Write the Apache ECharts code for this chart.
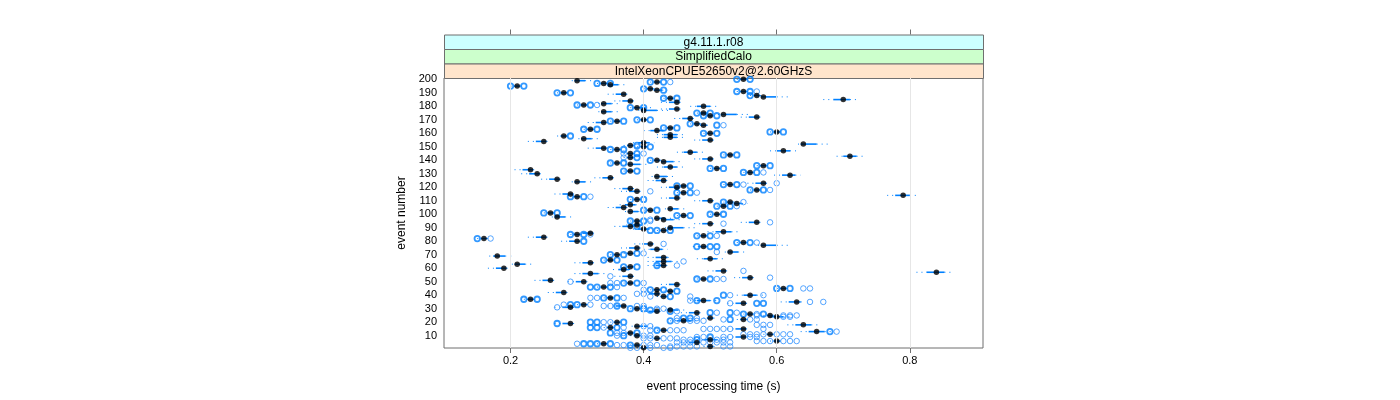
<!DOCTYPE html>
<html><head><meta charset="utf-8">
<script src="https://cdn.jsdelivr.net/npm/echarts@6/dist/echarts.min.js"></script>
<style>html,body{margin:0;padding:0;background:#fff}#c{width:1400px;height:400px}</style>
</head><body><div id="c"></div>
<script>
// ---- data ----
const events = [200,199,198,197,196,195,193,192,191,190,
 189,188,187,186,185,184,183,182,181,180,
 179,178,177,176,175,174,173,172,171,170,
 169,168,167,166,164,163,162,161,160,159,
 158,157,156,155,154,153,152,151,150,149,
 148,147,146,145,144,143,142,141,140,139,
 138,137,136,135,134,133,132,131,130,129,
 128,127,126,125,124,123,122,121,120,119,
 118,117,116,115,114,113,112,111,110,109,
 108,107,106,105,104,103,102,101,100,99,
 98,97,96,95,94,93,92,91,90,89,
 88,87,86,85,84,83,82,80,79,78,
 77,76,75,74,72,71,70,69,68,67,
 66,65,64,63,62,61,60,59,58,57,
 56,54,53,52,51,50,49,48,46,45,
 44,43,42,41,40,39,38,37,36,35,
 34,33,32,31,30,29,28,27,26,25,
 24,23,22,21,20,19,18,17,16,15,
 14,13,12,11,10,9,8,7,6,5,
 4,3,2,1];
const means = [0.55,0.30,0.42,0.34,0.35,0.21,0.41,0.42,0.55,0.28,
 0.37,0.57,0.58,0.44,0.70,0.38,0.45,0.34,0.31,0.49,
 0.39,0.45,0.40,0.34,0.49,0.52,0.50,0.57,0.47,0.40,
 0.36,0.34,0.48,0.49,0.44,0.32,0.42,0.60,0.50,0.44,
 0.28,0.44,0.31,0.50,0.25,0.40,0.64,0.38,0.40,0.34,
 0.36,0.61,0.47,0.38,0.53,0.71,0.38,0.50,0.42,0.43,
 0.36,0.38,0.58,0.44,0.51,0.23,0.38,0.56,0.24,0.62,
 0.42,0.35,0.27,0.43,0.30,0.58,0.53,0.46,0.45,0.38,
 0.57,0.39,0.46,0.29,0.79,0.30,0.45,0.39,0.50,0.53,
 0.54,0.38,0.52,0.37,0.44,0.41,0.38,0.26,0.51,0.46,
 0.27,0.42,0.43,0.39,0.57,0.50,0.39,0.38,0.44,0.40,
 0.43,0.52,0.32,0.30,0.49,0.25,0.16,0.30,0.55,0.41,
 0.58,0.49,0.39,0.42,0.53,0.38,0.36,0.18,0.43,0.50,
 0.35,0.43,0.32,0.21,0.43,0.38,0.19,0.37,0.52,0.84,
 0.32,0.38,0.56,0.49,0.26,0.31,0.38,0.45,0.34,0.61,
 0.42,0.44,0.28,0.42,0.56,0.43,0.35,0.23,0.49,0.63,
 0.55,0.31,0.37,0.29,0.39,0.44,0.42,0.48,0.56,0.59,
 0.60,0.50,0.55,0.46,0.36,0.29,0.64,0.39,0.35,0.55,
 0.43,0.66,0.38,0.59,0.39,0.55,0.42,0.50,0.60,0.48,
 0.34,0.39,0.50,0.40];
// spread of each event's bar to the left / right of its mean (s)
const barLeft = [.005,.004,.005,.005,.004,.005,.005,.005,.005,.005,
 .012,.005,.004,.005,.015,.012,.012,.004,.005,.01,
 .005,.012,.004,.004,.005,.004,.005,.012,.012,.005,
 .005,.012,.005,.005,.005,.005,.01,.005,.005,.01,
 .005,.01,.004,.012,.012,.008,.004,.005,.005,.012,
 .005,.01,.01,.005,.005,.01,.005,.012,.005,.004,
 .005,.004,.005,.01,.005,.012,.005,.005,.012,.012,
 .004,.012,.012,.012,.004,.012,.005,.005,.012,.012,
 .005,.012,.005,.012,.012,.005,.012,.005,.012,.005,
 .005,.008,.005,.012,.004,.005,.004,.005,.005,.005,
 .004,.004,.004,.005,.012,.012,.008,.012,.004,.008,
 .005,.012,.012,.005,.005,.012,.005,.012,.005,.012,
 .004,.008,.012,.01,.004,.005,.005,.006,.012,.01,
 .005,.012,.012,.004,.012,.005,.012,.008,.012,.015,
 .012,.012,.012,.005,.012,.012,.005,.012,.005,.005,
 .005,.005,.012,.012,.01,.005,.005,.005,.01,.012,
 .012,.005,.012,.012,.005,.004,.012,.012,.005,.005,
 .01,.005,.005,.01,.005,.012,.012,.004,.005,.012,
 .005,.012,.005,.005,.005,.012,.005,.01,.005,.012,
 .005,.005,.005,.005];
const barRight = [.005,.012,.005,.005,.012,.005,.005,.008,.005,.005,
 .004,.005,.02,.005,.01,.004,.004,.012,.005,.01,
 .012,.004,.02,.012,.005,.02,.005,.004,.004,.005,
 .005,.004,.005,.005,.005,.005,.01,.005,.005,.01,
 .005,.01,.012,.004,.004,.008,.02,.005,.005,.004,
 .005,.01,.01,.005,.005,.01,.005,.004,.005,.015,
 .005,.015,.005,.01,.005,.004,.005,.005,.004,.008,
 .015,.004,.004,.004,.012,.004,.005,.005,.004,.004,
 .005,.004,.005,.004,.01,.005,.004,.005,.004,.005,
 .008,.008,.005,.004,.012,.005,.012,.005,.005,.005,
 .012,.012,.015,.005,.004,.004,.008,.004,.02,.008,
 .005,.012,.004,.005,.005,.004,.005,.004,.005,.004,
 .02,.005,.004,.008,.012,.005,.005,.012,.006,.01,
 .005,.012,.004,.012,.004,.005,.004,.008,.004,.012,
 .012,.004,.004,.005,.004,.004,.005,.004,.005,.005,
 .005,.005,.004,.004,.01,.005,.005,.005,.01,.006,
 .004,.005,.004,.004,.005,.012,.004,.004,.005,.005,
 .01,.005,.005,.01,.005,.004,.012,.015,.005,.004,
 .005,.012,.005,.005,.005,.004,.005,.01,.005,.004,
 .005,.005,.005,.005];
// individual run times of each event (s)
const runs = [
 [0.54,0.54,0.56,0.56],[],[0.41,0.41,0.43,0.43,0.44],[0.33,0.33,0.35,0.35],[],[0.20,0.20,0.22,0.22],[0.40,0.40],[0.43,0.43],[0.54,0.54,0.56,0.56,0.57],[0.27,0.27,0.29,0.29],
 [],[0.56,0.56],[],[0.43,0.43,0.45,0.45],[],[],[],[],[0.30,0.30,0.32,0.32,0.33],[],
 [0.38,0.38,0.40,0.40],[],[],[],[0.48,0.48,0.50,0.50],[],[0.49,0.49,0.51,0.51],[],[],[0.39,0.39,0.41,0.41],
 [0.35,0.35,0.37,0.37],[],[0.47,0.47],[0.51,0.51,0.52],[0.43,0.43,0.45,0.45],[0.31,0.31,0.33,0.33],[],[0.59,0.59,0.61,0.61],[0.49,0.49,0.51,0.51],[],
 [0.29,0.29],[],[],[],[],[],[],[0.39,0.39],[0.39,0.41,0.41],[],
 [0.35,0.35,0.37,0.37],[],[],[0.37,0.39,0.39,0.40],[0.52,0.52,0.54,0.54],[],[0.37,0.39,0.39],[],[0.41,0.41],[],
 [0.35,0.35,0.37,0.37],[],[0.57,0.57,0.59,0.59],[],[0.50,0.50,0.52,0.52],[],[0.37,0.37,0.39,0.39],[0.55,0.55,0.57,0.57,0.58],[],[],
 [],[],[],[],[],[0.60],[0.52,0.52,0.54,0.54,0.55],[0.45,0.45,0.47,0.47],[],[],
 [0.56,0.56,0.58,0.58,0.59],[0.41],[0.45,0.45,0.47,0.47,0.48],[],[],[0.29,0.29,0.31,0.31,0.32],[],[0.38,0.38,0.40,0.40],[],[0.52,0.52,0.55],
 [],[],[0.51,0.51,0.53,0.53,0.54],[],[],[0.40,0.40,0.42,0.42],[],[0.25,0.25,0.27,0.27],[0.50,0.50,0.52,0.52],[0.45,0.45,0.47,0.47],
 [],[],[0.41],[0.38,0.38,0.40,0.40,0.41],[0.59],[0.52],[],[0.39,0.39],[],[],
 [0.41,0.41,0.42,0.42,0.44,0.44],[],[],[0.29,0.29,0.31,0.31,0.32],[0.48,0.48,0.50,0.50,0.51],[],[0.15,0.15,0.17],[0.31,0.31],[0.54,0.54,0.56,0.56,0.57],[0.43],
 [],[0.48,0.48,0.50,0.50,0.51,0.51],[],[],[0.51],[0.39,0.39,0.40],[0.35,0.35,0.37,0.37],[],[],[],
 [0.34,0.34,0.36,0.36],[0.46],[],[],[0.42,0.42,0.45],[0.37,0.37,0.39,0.39],[],[],[0.55],[],
 [],[0.35],[0.59],[0.48,0.48,0.50,0.50,0.51,0.52],[],[0.29],[0.35,0.36,0.37,0.37,0.39,0.39,0.40],[],[0.32,0.32,0.33,0.33,0.35,0.35,0.36],[0.60,0.60,0.62,0.62,0.64,0.65],
 [0.40,0.41,0.41,0.43,0.43],[0.45,0.45],[],[0.39,0.40],[0.52,0.52,0.53,0.58],[0.41,0.44,0.44,0.47],[0.32,0.33,0.34,0.34,0.36,0.36,0.37],[0.22,0.22,0.24,0.24],[0.47,0.48,0.48,0.51,0.51],[0.65,0.67],
 [0.53,0.57,0.57,0.58,0.58],[0.28,0.29,0.29,0.30,0.30,0.32],[0.34,0.35,0.36,0.36,0.39,0.40],[0.27],[0.38,0.38,0.40,0.40,0.42,0.43],[0.41,0.41,0.42],[0.44,0.44,0.45],[0.50,0.50,0.51,0.53,0.53,0.54],[0.55,0.55,0.57,0.58,0.58],[0.57,0.61,0.62,0.63],
 [0.61,0.62],[0.45,0.46,0.46,0.47,0.47,0.48],[0.52,0.53,0.53,0.56,0.57],[0.44,0.44,0.45,0.47,0.48,0.49],[0.32,0.32,0.33,0.33,0.34,0.35,0.37,0.37],[0.27,0.27],[0.57,0.58,0.59],[0.40,0.41],[0.32,0.32,0.33,0.33,0.34,0.36,0.36,0.37],[0.49,0.50,0.51,0.52,0.53,0.58],
 [0.41,0.42,0.42,0.44,0.45,0.46],[0.68,0.68,0.69],[0.35,0.35,0.36,0.37,0.39,0.39],[0.55,0.56,0.57,0.58,0.60,0.61,0.62],[0.36,0.37,0.37,0.40,0.41],[0.48,0.49,0.50,0.50,0.52,0.53,0.56,0.57],[0.40,0.41,0.43,0.44,0.45],[0.46,0.47,0.48,0.48,0.51,0.52],[0.57,0.58,0.59,0.61,0.62,0.63],[0.45,0.46,0.47,0.49,0.50,0.51,0.52,0.53],
 [0.30,0.31,0.31,0.32,0.32,0.33,0.33,0.35,0.35],[0.36,0.37,0.38,0.38,0.40,0.41,0.42],[0.44,0.45,0.46,0.47,0.48,0.52,0.53],[0.38,0.39,0.41,0.43,0.44]
];
const xTicks = [0.2, 0.4, 0.6, 0.8];
const yTicks = [10,20,30,40,50,60,70,80,90,100,110,120,130,140,150,160,170,180,190,200];
// strips listed from top to bottom
const stripLabels = ['g4.11.1.r08', 'SimplifiedCalo', 'IntelXeonCPUE52650v2@2.60GHzS'];
const stripColors = ['#ccffff', '#ccffcc', '#ffe5cc'];
const xTitle = 'event processing time (s)';
const yTitle = 'event number';

if (!(events.length === means.length && means.length === barLeft.length && barLeft.length === barRight.length && runs.length === events.length)) {
  console.error('length mismatch', events.length, means.length, barLeft.length, barRight.length, runs.length);
}

// ---- build series data ----
const FONT = '"Liberation Sans", Arial, Helvetica, sans-serif';
const BLUE = '#0080ff';
const WHISK = 1.0;
const barData = events.map((e, i) => {
  const lo = means[i] - barLeft[i], hi = means[i] + barRight[i];
  return [lo, hi, e, lo - barLeft[i] * WHISK, hi + barRight[i] * WHISK];
});
const circData = [];
events.forEach((e, i) => {
  const counts = {};
  runs[i].forEach(v => { const k = v.toFixed(2); counts[k] = (counts[k] || 0) + 1; });
  Object.keys(counts).forEach(k => {
    const n = counts[k];
    circData.push({ value: [parseFloat(k), e], itemStyle: n > 1 ? { borderWidth: 1.8, borderColor: BLUE } : { borderWidth: 1, borderColor: '#2b8fff' } });
  });
});
const meanData = events.map((e, i) => [means[i], e]);

const G = { left: 444, top: 78, width: 539, height: 270 };
const stripH = 14.5;
const graphics = [];
stripLabels.forEach((t, k) => {
  const y = G.top - (stripLabels.length - k) * stripH;
  graphics.push({ type: 'rect', shape: { x: G.left + 0.5, y: y + 0.5, width: G.width, height: stripH }, style: { fill: stripColors[k], stroke: '#6f6f6f', lineWidth: 1 }, silent: true });
  graphics.push({ type: 'text', x: G.left + G.width / 2, y: y + stripH / 2 + 0.5, style: { text: t, font: '12px ' + FONT, fill: '#000', textAlign: 'center', textVerticalAlign: 'middle' }, silent: true });
});

const chart = echarts.init(document.getElementById('c'), null, { renderer: 'canvas' });
chart.setOption({
  animation: false,
  backgroundColor: '#fff',
  grid: { left: G.left, top: G.top, width: G.width, height: G.height, show: true, borderColor: '#6f6f6f', borderWidth: 1, backgroundColor: 'transparent' },
  xAxis: [{
    type: 'value', min: 0.1, max: 0.91, position: 'bottom',
    axisLine: { show: false },
    axisTick: { show: true, customValues: xTicks, length: 5, lineStyle: { color: '#6f6f6f' } },
    axisLabel: { customValues: xTicks, formatter: v => String(v), fontSize: 11, fontFamily: FONT, color: '#000', margin: 7 },
    splitLine: { show: false },
    name: xTitle, nameLocation: 'middle', nameGap: 33, nameTextStyle: { fontSize: 12, fontFamily: FONT, color: '#000' }
  }, {
    type: 'value', min: 0.1, max: 0.91, position: 'top', offset: 3 * stripH,
    axisLine: { show: false },
    axisTick: { show: true, customValues: xTicks, length: 5, lineStyle: { color: '#6f6f6f' } },
    axisLabel: { show: false }, splitLine: { show: false }
  }],
  yAxis: {
    type: 'value', min: 0.85, max: 201,
    axisLine: { show: false },
    axisTick: { show: false },
    axisLabel: { customValues: yTicks, fontSize: 11, fontFamily: FONT, color: '#000', margin: 7 },
    splitLine: { show: false },
    name: yTitle, nameLocation: 'middle', nameGap: 36, nameRotate: 90, nameTextStyle: { fontSize: 12, fontFamily: FONT, color: '#000' }
  },
  graphic: graphics,
  series: [
    { type: 'scatter', data: [], z: 1, silent: true,
      markLine: { silent: true, symbol: ['none', 'none'], label: { show: false }, animation: false,
        lineStyle: { color: '#e6e6e6', width: 1, type: 'solid' }, data: xTicks.map(v => ({ xAxis: v })) } },
    { type: 'custom', z: 2, silent: true, data: barData, encode: { x: [0, 1, 3, 4], y: 2 },
      renderItem: (params, api) => {
        const y = api.value(2);
        const a = api.coord([api.value(3), y]), b = api.coord([api.value(0), y]);
        const c = api.coord([api.value(1), y]), d = api.coord([api.value(4), y]);
        return { type: 'group', children: [
          { type: 'line', shape: { x1: a[0], y1: b[1], x2: b[0], y2: b[1] }, style: { stroke: BLUE, lineWidth: 1, lineDash: [1, 4] } },
          { type: 'line', shape: { x1: c[0], y1: c[1], x2: d[0], y2: c[1] }, style: { stroke: BLUE, lineWidth: 1, lineDash: [1, 4] } },
          { type: 'line', shape: { x1: b[0], y1: b[1], x2: c[0], y2: c[1] }, style: { stroke: BLUE, lineWidth: 1.6 } }
        ] };
      } },
    { type: 'scatter', z: 3, silent: true, symbol: 'circle', symbolSize: 5.5, data: circData,
      itemStyle: { color: 'rgba(0,0,0,0)', borderColor: BLUE, borderWidth: 1.5 } },
    { type: 'scatter', z: 4, silent: true, symbol: 'circle', symbolSize: 5.5, data: meanData,
      itemStyle: { color: '#000' } }
  ]
});
</script>
</body></html>
